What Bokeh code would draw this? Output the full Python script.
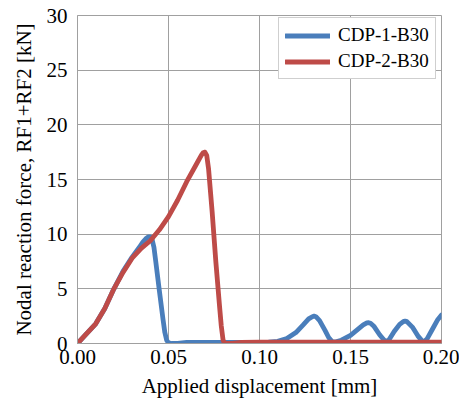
from bokeh.plotting import figure
from bokeh.models import Legend, LegendItem, NumeralTickFormatter, FixedTicker, Range1d
from bokeh.embed import file_html
from bokeh.resources import INLINE

# CDP-1-B30
x1 = [0.000, 0.005, 0.010, 0.015, 0.020, 0.025, 0.030, 0.034, 0.036, 0.038, 0.039,
      0.040, 0.041, 0.042, 0.043, 0.045, 0.047, 0.048, 0.049, 0.050, 0.052, 0.055,
      0.060, 0.070, 0.080, 0.090, 0.100, 0.105, 0.110, 0.115, 0.120, 0.124, 0.127,
      0.129, 0.130, 0.131, 0.133, 0.136, 0.138, 0.140, 0.142, 0.145, 0.150, 0.154,
      0.157, 0.159, 0.160, 0.161, 0.163, 0.166, 0.169, 0.171, 0.174, 0.177, 0.179,
      0.180, 0.181, 0.184, 0.187, 0.190, 0.192, 0.195, 0.198, 0.200]
y1 = [0.0, 0.9, 1.8, 3.2, 5.0, 6.6, 7.9, 8.8, 9.3, 9.65, 9.75,
      9.75, 9.5, 8.8, 7.5, 4.8, 2.2, 1.0, 0.3, 0.05, 0.0, 0.0,
      0.1, 0.1, 0.1, 0.1, 0.1, 0.12, 0.2, 0.45, 1.0, 1.7, 2.25,
      2.45, 2.5, 2.45, 2.1, 1.2, 0.55, 0.15, 0.15, 0.3, 0.75, 1.3,
      1.7, 1.88, 1.9, 1.85, 1.55, 0.8, 0.2, 0.3, 1.1, 1.75, 2.0,
      2.05, 2.0, 1.5, 0.7, 0.1, 0.4, 1.3, 2.2, 2.6]

# CDP-2-B30
x2 = [0.000, 0.005, 0.010, 0.015, 0.020, 0.025, 0.030, 0.035, 0.040, 0.045, 0.050,
      0.055, 0.060, 0.065, 0.068, 0.069, 0.070, 0.071, 0.072, 0.074, 0.076, 0.078,
      0.079, 0.080, 0.081, 0.085, 0.090, 0.100, 0.120, 0.150, 0.200]
y2 = [0.0, 0.9, 1.8, 3.2, 5.0, 6.5, 7.8, 8.7, 9.4, 10.4, 11.6,
      13.1, 14.8, 16.3, 17.2, 17.45, 17.5, 17.2, 16.0, 12.0, 7.5, 3.5,
      1.6, 0.3, 0.0, 0.0, 0.1, 0.12, 0.12, 0.12, 0.12]

x_ticks = [0.0, 0.05, 0.10, 0.15, 0.20]
y_ticks = [0, 5, 10, 15, 20, 25, 30]
series_names = ["CDP-1-B30", "CDP-2-B30"]

FONT = "'Liberation Serif', 'Times New Roman', serif"
GRID = "#a0a0a0"

p = figure(width=459, height=402, output_backend="svg", toolbar_location=None,
           x_range=Range1d(0, 0.20), y_range=Range1d(0, 30),
           min_border_left=77, min_border_right=18, min_border_top=15, min_border_bottom=59)

r1 = p.line(x1, y1, line_color="#4a7ebb", line_width=4.8, line_join="round", line_cap="round")
r2 = p.line(x2, y2, line_color="#be4b48", line_width=4.8, line_join="round", line_cap="round")

p.xaxis.ticker = FixedTicker(ticks=x_ticks)
p.yaxis.ticker = FixedTicker(ticks=y_ticks)
p.xaxis.formatter = NumeralTickFormatter(format="0.00")
p.xaxis.axis_label = "Applied displacement [mm]"
p.yaxis.axis_label = "Nodal reaction force, RF1+RF2 [kN]"

for ax in (p.xaxis[0], p.yaxis[0]):
    ax.axis_label_text_font = FONT
    ax.axis_label_text_font_size = "21px"
    ax.axis_label_text_font_style = "normal"
    ax.axis_label_text_color = "black"
    ax.major_label_text_font = FONT
    ax.major_label_text_font_size = "21px"
    ax.major_label_text_color = "black"
    ax.axis_line_color = GRID
    ax.major_tick_line_color = None
    ax.minor_tick_line_color = None
    ax.major_tick_out = 0
    ax.major_tick_in = 0

p.xaxis.major_label_standoff = 6
p.xaxis.axis_label_standoff = 7
p.yaxis.major_label_standoff = 10
p.yaxis.axis_label_standoff = 8

p.xgrid.grid_line_color = GRID
p.ygrid.grid_line_color = GRID
p.outline_line_color = GRID

legend = Legend(items=[LegendItem(label=series_names[0], renderers=[r1]),
                       LegendItem(label=series_names[1], renderers=[r2])],
                location=(201, 264))
legend.label_text_font = FONT
legend.label_text_font_size = "19px"
legend.label_text_color = "black"
legend.glyph_width = 45
legend.glyph_height = 21
legend.label_height = 21
legend.spacing = 4
legend.padding = 6
legend.margin = 0
legend.label_standoff = 8
legend.border_line_color = GRID
legend.border_line_width = 1.5
legend.background_fill_alpha = 1
p.add_layout(legend)

open("out.html", "w").write(file_html(p, INLINE))
